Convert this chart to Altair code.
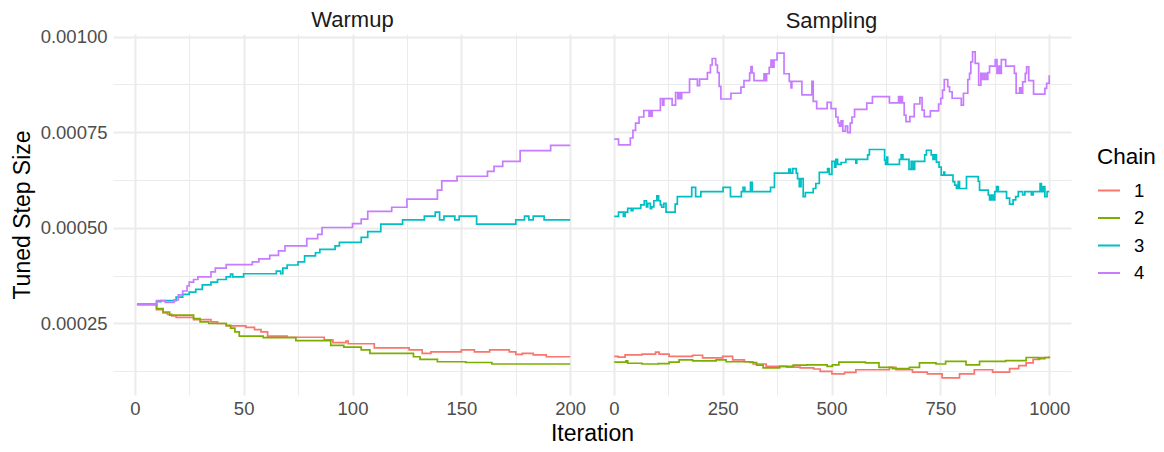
import altair as alt
import pandas as pd

FONT = "Liberation Sans"
CHAINS = ["1", "2", "3", "4"]
COLORS = ["#F8766D", "#7CAE00", "#00BFC4", "#C77CFF"]
PHASES = ["Warmup", "Sampling"]

# ---- Warmup (values in units of 1e-4) ----
warm1_it = [1, 10, 13, 15, 17, 19, 27, 35, 38, 42, 51, 55, 58, 61, 70, 87, 91, 97, 98, 110, 126, 132, 136, 150, 156, 163, 172, 175, 178, 183, 189, 200]
warm1_val = [3.0, 2.86, 2.78, 2.74, 2.70, 2.66, 2.60, 2.54, 2.50, 2.44, 2.40, 2.34, 2.28, 2.17, 2.14, 2.07, 2.00, 2.04, 1.97, 1.86, 1.81, 1.72, 1.76, 1.81, 1.76, 1.81, 1.76, 1.69, 1.72, 1.68, 1.63, 1.63]

warm2_it = [1, 10, 13, 16, 27, 30, 34, 42, 44, 46, 48, 59, 74, 90, 96, 104, 108, 128, 131, 139, 152, 164, 200]
warm2_val = [3.0, 2.89, 2.80, 2.72, 2.63, 2.54, 2.50, 2.45, 2.38, 2.28, 2.17, 2.13, 2.05, 1.93, 1.88, 1.81, 1.72, 1.63, 1.56, 1.50, 1.48, 1.44, 1.44]

warm3_it = [1, 10, 12, 19, 22, 25, 28, 31, 35, 38, 42, 44, 45, 50, 65, 67, 68, 70, 75, 78, 83, 85, 92, 94, 104, 107, 113, 123, 133, 138, 140, 142, 147, 149, 157, 175, 179, 181, 183, 188, 200]
warm3_val = [3.0, 3.07, 3.10, 3.19, 3.26, 3.32, 3.39, 3.51, 3.58, 3.65, 3.72, 3.79, 3.72, 3.80, 3.87, 3.80, 3.95, 4.03, 4.11, 4.27, 4.35, 4.44, 4.53, 4.62, 4.75, 4.90, 5.10, 5.21, 5.31, 5.41, 5.21, 5.31, 5.21, 5.31, 5.10, 5.21, 5.31, 5.21, 5.31, 5.21, 5.21]

warm4_it = [1, 10, 14, 18, 20, 22, 24, 25, 27, 29, 35, 37, 42, 54, 57, 62, 66, 69, 79, 84, 86, 100, 104, 107, 118, 125, 139, 141, 148, 162, 165, 169, 177, 191, 200]
warm4_val = [3.0, 3.10, 3.05, 3.12, 3.25, 3.35, 3.48, 3.58, 3.65, 3.72, 3.85, 3.95, 4.04, 4.11, 4.19, 4.28, 4.40, 4.53, 4.72, 4.83, 5.01, 5.11, 5.23, 5.43, 5.54, 5.75, 5.99, 6.23, 6.35, 6.48, 6.61, 6.74, 7.02, 7.16, 7.16]

# ---- Sampling (values in units of 1e-4) ----
samp1_it = [1, 10, 26, 65, 96, 104, 127, 181, 204, 250, 273, 300, 320, 350, 397, 428, 459, 474, 501, 530, 556, 633, 648, 686, 720, 754, 794, 828, 870, 909, 930, 947, 963, 978, 1000]
samp1_val = [1.64, 1.62, 1.68, 1.70, 1.75, 1.70, 1.64, 1.67, 1.60, 1.64, 1.55, 1.50, 1.44, 1.38, 1.36, 1.34, 1.31, 1.25, 1.18, 1.22, 1.29, 1.35, 1.29, 1.23, 1.18, 1.08, 1.18, 1.29, 1.23, 1.32, 1.40, 1.47, 1.56, 1.61, 1.64]

samp2_it = [1, 28, 32, 65, 102, 127, 150, 181, 235, 258, 312, 328, 343, 381, 412, 443, 490, 502, 517, 578, 609, 640, 679, 702, 740, 762, 809, 840, 900, 947, 975, 990, 1000]
samp2_val = [1.49, 1.52, 1.46, 1.44, 1.45, 1.49, 1.55, 1.52, 1.55, 1.50, 1.48, 1.41, 1.34, 1.38, 1.41, 1.42, 1.38, 1.42, 1.49, 1.47, 1.35, 1.32, 1.35, 1.47, 1.44, 1.51, 1.42, 1.51, 1.53, 1.61, 1.58, 1.61, 1.64]

samp3_it = [1, 11, 22, 26, 32, 40, 44, 62, 70, 75, 78, 84, 87, 92, 99, 103, 107, 110, 115, 120, 141, 146, 179, 188, 200, 251, 268, 293, 297, 301, 314, 318, 356, 360, 369, 402, 406, 411, 419, 422, 426, 430, 435, 440, 458, 464, 472, 491, 495, 501, 507, 510, 514, 522, 533, 556, 558, 583, 587, 622, 624, 627, 629, 656, 660, 664, 678, 683, 687, 691, 714, 718, 729, 733, 737, 741, 747, 752, 758, 760, 779, 783, 787, 791, 794, 810, 837, 840, 860, 863, 867, 871, 875, 879, 883, 902, 909, 917, 923, 929, 939, 944, 959, 963, 979, 982, 986, 990, 995, 1000]
samp3_val = [5.30, 5.41, 5.30, 5.41, 5.51, 5.45, 5.51, 5.60, 5.71, 5.55, 5.64, 5.50, 5.55, 5.71, 5.84, 5.71, 5.60, 5.54, 5.64, 5.41, 5.62, 5.82, 6.06, 5.82, 5.95, 6.06, 5.82, 5.95, 6.06, 5.95, 6.19, 5.95, 5.95, 6.06, 6.43, 6.54, 6.43, 6.55, 6.43, 6.29, 6.08, 6.29, 5.82, 5.92, 6.03, 6.16, 6.45, 6.55, 6.40, 6.74, 6.59, 6.79, 6.66, 6.71, 6.79, 6.69, 6.79, 6.91, 7.05, 6.77, 6.66, 6.85, 6.66, 6.79, 6.91, 6.79, 6.53, 6.74, 6.53, 6.74, 6.91, 7.03, 6.91, 6.79, 6.91, 6.72, 6.59, 6.38, 6.46, 6.38, 6.21, 6.12, 6.03, 6.21, 6.03, 6.34, 6.22, 5.99, 5.86, 5.73, 5.86, 5.73, 5.95, 6.08, 5.95, 5.78, 5.62, 5.73, 5.82, 5.95, 5.86, 5.95, 5.86, 5.95, 6.16, 5.95, 6.08, 5.82, 5.95, 5.95]

samp4_it = [1, 11, 38, 44, 50, 58, 69, 81, 84, 86, 88, 107, 112, 115, 134, 142, 147, 150, 153, 156, 174, 192, 197, 215, 222, 226, 234, 238, 242, 246, 269, 292, 299, 312, 315, 318, 322, 345, 348, 351, 357, 361, 365, 368, 375, 391, 403, 407, 409, 432, 455, 458, 466, 490, 499, 510, 515, 518, 522, 526, 532, 537, 543, 547, 553, 581, 594, 633, 654, 657, 660, 663, 667, 671, 680, 690, 703, 708, 713, 727, 746, 751, 755, 759, 767, 771, 777, 798, 803, 813, 817, 820, 824, 830, 838, 843, 847, 851, 855, 859, 863, 876, 880, 883, 886, 890, 900, 920, 924, 932, 935, 939, 945, 948, 953, 964, 990, 994, 1000]
samp4_val = [7.32, 7.17, 7.35, 7.55, 7.74, 7.90, 8.07, 7.92, 8.07, 7.92, 8.07, 8.38, 8.21, 8.38, 8.21, 8.54, 8.38, 8.54, 8.38, 8.54, 8.89, 8.72, 8.89, 9.06, 9.26, 9.43, 9.26, 9.06, 8.70, 8.37, 8.52, 8.68, 8.85, 9.05, 9.22, 9.05, 8.85, 9.03, 8.85, 9.03, 9.20, 9.39, 9.20, 9.39, 9.57, 9.03, 8.83, 8.66, 8.83, 8.48, 8.83, 8.31, 8.12, 8.28, 8.12, 7.90, 7.75, 7.66, 7.80, 7.53, 7.66, 7.49, 7.74, 7.90, 8.10, 8.26, 8.43, 8.27, 8.43, 8.27, 8.43, 8.27, 7.95, 7.78, 7.91, 8.24, 8.41, 8.08, 7.91, 8.06, 8.24, 8.39, 8.60, 8.88, 8.69, 8.56, 8.39, 8.21, 8.52, 8.88, 9.04, 9.34, 9.60, 9.30, 8.73, 9.04, 8.88, 9.04, 8.88, 9.06, 9.23, 9.40, 9.04, 9.23, 9.04, 9.40, 9.23, 9.04, 8.52, 8.66, 8.52, 8.82, 9.04, 9.21, 8.85, 8.50, 8.65, 8.78, 8.99]

SERIES = [
    ("Warmup", "1", warm1_it, warm1_val),
    ("Warmup", "2", warm2_it, warm2_val),
    ("Warmup", "3", warm3_it, warm3_val),
    ("Warmup", "4", warm4_it, warm4_val),
    ("Sampling", "1", samp1_it, samp1_val),
    ("Sampling", "2", samp2_it, samp2_val),
    ("Sampling", "3", samp3_it, samp3_val),
    ("Sampling", "4", samp4_it, samp4_val),
]

rows = []
for phase, chain, its, vals in SERIES:
    for it, v in zip(its, vals):
        rows.append({"phase": phase, "chain": chain, "iteration": it, "stepsize": v * 1e-4})
df = pd.DataFrame(rows)

PANEL_W = 479
PANEL_H = 361
Y_DOMAIN = [0.000063, 0.001007]
Y_VALUES = [0.000125 * k for k in range(1, 9)]
Y_MAJOR = "abs(datum.value * 4000 - round(datum.value * 4000)) < 0.001"
GRID = "#EBEBEB"

color = alt.Color(
    "chain:N",
    scale=alt.Scale(domain=CHAINS, range=COLORS),
    legend=alt.Legend(
        title="Chain",
        orient="none",
        legendX=984,
        legendY=112,
        padding=0,
        titleFontSize=22.5,
        titleFont=FONT,
        titleFontWeight="normal",
        titleColor="#000000",
        titlePadding=10,
        labelFontSize=18.5,
        labelFont=FONT,
        labelColor="#000000",
        labelOffset=13,
        symbolType="stroke",
        symbolStrokeWidth=2,
        symbolSize=484,
        rowPadding=5.5,
    ),
)


def panel(phase, xdomain, xvalues, major_step, first):
    x_axis_kwargs = dict(
        values=xvalues,
        format="d",
        labelExpr=f"datum.value % {major_step} == 0 ? datum.label : ''",
        labelFont=FONT,
        labelFontSize=18.5,
        labelColor="#4D4D4D",
        labelPadding=4,
        ticks=False,
        domain=False,
        grid=True,
        gridColor=GRID,
        gridWidth={"condition": {"test": f"datum.value % {major_step} == 0", "value": 2}, "value": 1},
    )
    if first:
        x_axis = alt.Axis(
            title="Iteration",
            titleFont=FONT,
            titleFontSize=23,
            titleFontWeight="normal",
            titleColor="#000000",
            titleX=PANEL_W,
            titleY=45,
            titleAlign="center",
            titleBaseline="alphabetic",
            **x_axis_kwargs,
        )
        y_axis = alt.Axis(
            values=Y_VALUES,
            labelExpr=f"{Y_MAJOR} ? format(datum.value, '.5f') : ''",
            labelFont=FONT,
            labelFontSize=18.5,
            labelColor="#4D4D4D",
            labelPadding=6,
            ticks=False,
            domain=False,
            grid=True,
            gridColor=GRID,
            gridWidth={"condition": {"test": Y_MAJOR, "value": 2}, "value": 1},
            title="Tuned Step Size",
            titleFont=FONT,
            titleFontSize=23,
            titleFontWeight="normal",
            titleColor="#000000",
            titleX=-84,
            titleY=PANEL_H / 2,
            titleAngle=270,
            titleAlign="center",
            titleBaseline="alphabetic",
        )
        title_dy = 5
    else:
        x_axis = alt.Axis(title=None, **x_axis_kwargs)
        y_axis = alt.Axis(
            values=Y_VALUES,
            labels=False,
            ticks=False,
            domain=False,
            title=None,
            grid=True,
            gridColor=GRID,
            gridWidth={"condition": {"test": Y_MAJOR, "value": 2}, "value": 1},
        )
        title_dy = 0
    return (
        alt.Chart(df)
        .transform_filter(alt.datum.phase == phase)
        .mark_line(interpolate="step-after", strokeWidth=1.7, clip=True)
        .encode(
            x=alt.X("iteration:Q", scale=alt.Scale(domain=xdomain, nice=False, zero=False), axis=x_axis),
            y=alt.Y("stepsize:Q", scale=alt.Scale(domain=Y_DOMAIN, nice=False, zero=False), axis=y_axis),
            color=color,
            order=alt.Order("iteration:Q"),
        )
        .properties(
            width=PANEL_W,
            height=PANEL_H,
            title=alt.TitleParams(
                phase,
                font=FONT,
                fontSize=22,
                fontWeight="normal",
                color="#1A1A1A",
                anchor="middle",
                frame="group",
                baseline="top",
                offset=1,
                dy=title_dy,
            ),
        )
    )


left = panel("Warmup", [-10, 210], list(range(0, 201, 25)), 50, True)
right = panel("Sampling", [-50, 1050], list(range(0, 1001, 125)), 250, False)

chart = (
    alt.hconcat(left, right, spacing=0, bounds="flush")
    .resolve_scale(color="shared")
    .properties(padding={"left": 3, "top": 0, "right": 0, "bottom": 0}, background="white")
    .configure_view(stroke=None)
    .configure_concat(spacing=0)
)

chart.save("out.html", embed_options={"renderer": "svg", "actions": False})
